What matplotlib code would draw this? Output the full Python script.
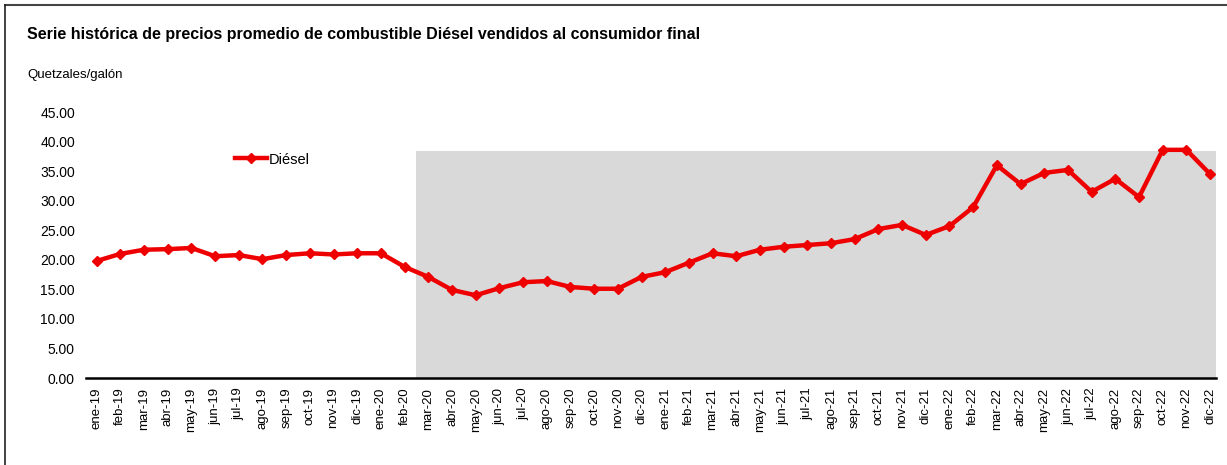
import matplotlib
matplotlib.use("Agg")
import matplotlib.pyplot as plt
from matplotlib.lines import Line2D
from matplotlib.patches import Rectangle

# ==========================================================
# Data
# ==========================================================

months = [
    "ene-19", "feb-19", "mar-19", "abr-19", "may-19", "jun-19",
    "jul-19", "ago-19", "sep-19", "oct-19", "nov-19", "dic-19",
    "ene-20", "feb-20", "mar-20", "abr-20", "may-20", "jun-20",
    "jul-20", "ago-20", "sep-20", "oct-20", "nov-20", "dic-20",
    "ene-21", "feb-21", "mar-21", "abr-21", "may-21", "jun-21",
    "jul-21", "ago-21", "sep-21", "oct-21", "nov-21", "dic-21",
    "ene-22", "feb-22", "mar-22", "abr-22", "may-22", "jun-22",
    "jul-22", "ago-22", "sep-22", "oct-22", "nov-22", "dic-22",
]

diesel = [
    19.8, 21.0, 21.7, 21.8, 22.0, 20.6,
    20.8, 20.1, 20.8, 21.1, 20.9, 21.1,
    21.1, 18.8, 17.1, 14.9, 14.0, 15.2,
    16.2, 16.4, 15.4, 15.1, 15.1, 17.1,
    17.9, 19.5, 21.1, 20.6, 21.7, 22.2,
    22.5, 22.8, 23.5, 25.2, 25.9, 24.2,
    25.7, 28.9, 36.0, 32.8, 34.7, 35.2,
    31.5, 33.7, 30.6, 38.6, 38.6, 34.5,
]

# shaded period (pandemic onwards)
shade_start = "mar-20"
shade_height = 38.4

yticks = [0, 5, 10, 15, 20, 25, 30, 35, 40, 45]

# ==========================================================
# Plot
# ==========================================================

plt.rcParams["font.family"] = ["Liberation Sans", "DejaVu Sans"]

fig = plt.figure(figsize=(12.27, 4.65), dpi=100)

# outer frame (only top and left edges visible)
fig.lines.append(Line2D([5 / 1227, 1], [1 - 5 / 465, 1 - 5 / 465], transform=fig.transFigure,
                        color="#444444", linewidth=1.5))
fig.lines.append(Line2D([5 / 1227, 5 / 1227], [0, 1 - 5 / 465], transform=fig.transFigure,
                        color="#222222", linewidth=1.2))

ax = fig.add_axes([86 / 1227, 87 / 465, 1130 / 1227, 266 / 465])

x = list(range(len(months)))
i0 = months.index(shade_start) - 0.5
ax.add_patch(Rectangle((i0, 0), 47.25 - i0, shade_height,
                       facecolor="#d9d9d9", edgecolor="none", zorder=0))

ax.plot(x, diesel, color="#ee0000", linewidth=3.2, marker="D",
        markersize=5, label="Diésel", zorder=3)

ax.set_xlim(-0.45, 47.25)
ax.set_ylim(0, 45)
ax.set_yticks(yticks)
ax.set_yticklabels([f"{v:.2f}" for v in yticks], fontsize=10)
ax.set_xticks(x)
ax.set_xticklabels(months, rotation=90, fontsize=9.5)
ax.tick_params(axis="both", length=0, pad=8)
ax.tick_params(axis="x", pad=7)

for side in ["top", "right", "left"]:
    ax.spines[side].set_visible(False)
ax.spines["bottom"].set_linewidth(1.8)

ax.legend(loc="upper left", bbox_to_anchor=(0.12, 0.897), frameon=False,
          fontsize=10.5, handlelength=2.2, handletextpad=0.1)

fig.text(27 / 1227, 1 - 35 / 465, "Serie histórica de precios promedio de combustible Diésel vendidos al consumidor final",
         fontsize=11.5, fontweight="bold", va="center")
fig.text(27 / 1227, 1 - 75 / 465, "Quetzales/galón", fontsize=9.5, va="center")

fig.savefig("out.png", dpi=100)
plt.close()
